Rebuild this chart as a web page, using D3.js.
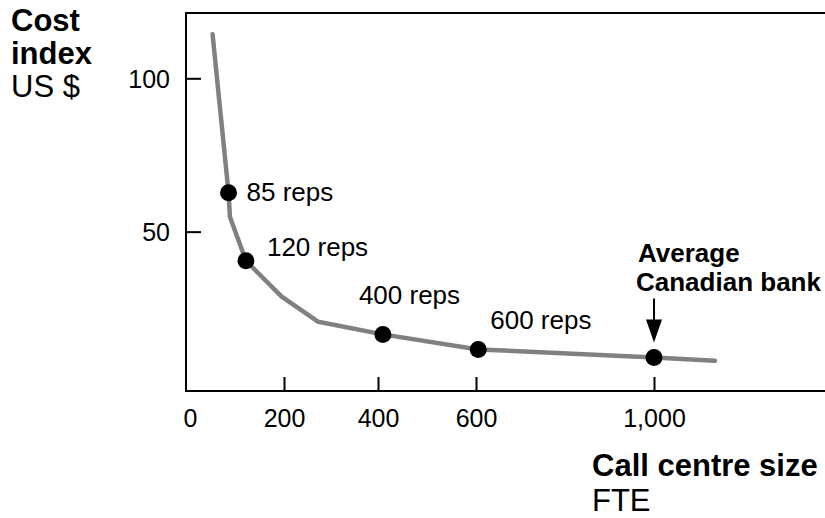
<!DOCTYPE html>
<html>
<head>
<meta charset="utf-8">
<script src="https://cdn.jsdelivr.net/npm/d3@7"></script>
<style>
  html, body { margin: 0; padding: 0; background: #fff; }
  svg { display: block; font-family: 'Liberation Sans', Arial, sans-serif; }
</style>
</head>
<body>
<svg id="chart" width="825" height="518"></svg>
<script>
// ── Data ──────────────────────────────────────────────────────
const curveFte  = [48, 82, 85, 119, 195, 273, 410, 605, 1000, 1137];
const curveCost = [114.4, 62.7, 54.8, 40.5, 28.8, 20.6, 16.5, 11.6, 9.0, 7.9];

const dotFte    = [82, 119, 410, 605, 1000];
const dotCost   = [62.7, 40.5, 16.5, 11.6, 9.0];
const dotLabels = ['85 reps', '120 reps', '400 reps', '600 reps', ''];

const xTicks = [0, 200, 400, 600, 1000];
const yTicks = [50, 100];

// ── Layout ────────────────────────────────────────────────────
const frame = { left: 186, top: 13, bottom: 391, right: 830 };
const labelOffset = [[18, 8], [21, -5], [-24, -30], [12, -20], [0, 0]];

const svg = d3.select('#chart');

// the printed axis is not evenly spaced, so follow its ticks piecewise
const x = d3.scaleLinear().domain([0, 200, 400, 600, 1000]).range([190, 284, 378, 476, 654]);
const y = d3.scaleLinear().domain([0, 100]).range([385, 78.3]);

// ── Frame ─────────────────────────────────────────────────────
svg.append('path')
  .attr('d', `M${frame.right},${frame.top}H${frame.left}V${frame.bottom}H${frame.right}`)
  .attr('fill', 'none')
  .attr('stroke', '#000')
  .attr('stroke-width', 2);

// ── Axes (inner ticks) ────────────────────────────────────────
const yAxis = svg.append('g')
  .attr('transform', `translate(${frame.left},0)`)
  .call(d3.axisRight(y).tickValues(yTicks).tickSize(15).tickFormat(d3.format(',')));

yAxis.select('.domain').remove();
yAxis.selectAll('line').attr('stroke', '#000').attr('stroke-width', 2);
yAxis.selectAll('text')
  .attr('x', -16)
  .attr('dy', '0.35em')
  .attr('text-anchor', 'end')
  .attr('font-size', 25)
  .attr('font-family', "'Liberation Sans', Arial, sans-serif")
  .attr('fill', '#000');

const xAxis = svg.append('g')
  .attr('transform', `translate(0,${frame.bottom})`)
  .call(d3.axisTop(x).tickValues(xTicks).tickSize(14).tickFormat(d3.format(',')));

xAxis.select('.domain').remove();
xAxis.selectAll('line')
  .attr('stroke', '#000').attr('stroke-width', 2)
  .attr('display', d => d === 0 ? 'none' : null);
xAxis.selectAll('text')
  .attr('y', 36)
  .attr('dy', 0)
  .attr('font-size', 25)
  .attr('font-family', "'Liberation Sans', Arial, sans-serif")
  .attr('fill', '#000');

// ── Curve ─────────────────────────────────────────────────────
const curve = d3.line()
  .x(d => x(d[0]))
  .y(d => y(d[1]));

svg.append('path')
  .datum(d3.zip(curveFte, curveCost))
  .attr('d', curve)
  .attr('fill', 'none')
  .attr('stroke', '#808080')
  .attr('stroke-width', 4.5)
  .attr('stroke-linecap', 'round')
  .attr('stroke-linejoin', 'round');

// ── Dots + labels ─────────────────────────────────────────────
const dots = dotFte.map((f, i) => ({ f, c: dotCost[i], label: dotLabels[i], off: labelOffset[i] }));

svg.selectAll('.dot')
  .data(dots)
  .join('circle')
  .attr('class', 'dot')
  .attr('cx', d => x(d.f))
  .attr('cy', d => y(d.c))
  .attr('r', 8.5)
  .attr('fill', '#000');

svg.selectAll('.dot-label')
  .data(dots.filter(d => d.label))
  .join('text')
  .attr('class', 'dot-label')
  .attr('x', d => x(d.f) + d.off[0])
  .attr('y', d => y(d.c) + d.off[1])
  .attr('font-size', 26)
  .attr('fill', '#000')
  .text(d => d.label);

// ── Average Canadian bank callout ─────────────────────────────
const avg = dots[dots.length - 1];
const ax = x(avg.f), ay = y(avg.c);

svg.append('line')
  .attr('x1', ax).attr('x2', ax)
  .attr('y1', ay - 59).attr('y2', ay - 35)
  .attr('stroke', '#000')
  .attr('stroke-width', 2);

svg.append('path')
  .attr('d', `M${ax - 8},${ay - 38}L${ax + 8},${ay - 38}L${ax},${ay - 15}Z`)
  .attr('fill', '#000');

const callout = svg.append('text')
  .attr('font-size', 26)
  .attr('font-weight', 'bold')
  .attr('fill', '#000');
callout.append('tspan').attr('x', ax - 16).attr('y', ay - 95).text('Average');
callout.append('tspan').attr('x', ax - 18).attr('y', ay - 66).text('Canadian bank');

// ── Axis titles ───────────────────────────────────────────────
const yTitle = svg.append('text').attr('font-size', 31).attr('fill', '#000');
yTitle.append('tspan').attr('x', 11).attr('y', 31).attr('font-weight', 'bold').text('Cost');
yTitle.append('tspan').attr('x', 11).attr('y', 64).attr('font-weight', 'bold').text('index');
yTitle.append('tspan').attr('x', 11).attr('y', 97).text('US $');

const xTitle = svg.append('text').attr('font-size', 31).attr('fill', '#000');
xTitle.append('tspan').attr('x', 592).attr('y', 476).attr('font-weight', 'bold').text('Call centre size');
xTitle.append('tspan').attr('x', 592).attr('y', 511).text('FTE');
</script>
</body>
</html>
